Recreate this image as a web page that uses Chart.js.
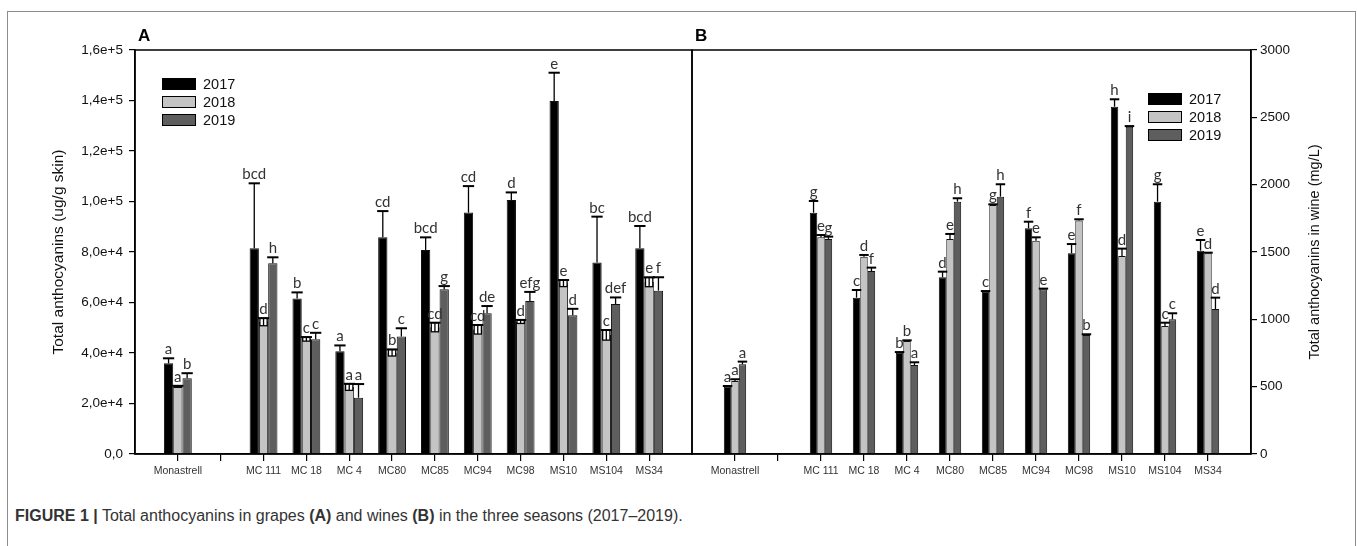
<!DOCTYPE html>
<html>
<head>
<meta charset="utf-8">
<script src="https://cdn.jsdelivr.net/npm/chart.js@4.4.1/dist/chart.umd.min.js"></script>
<style>
  body { margin: 0; background: #fff; }
  #page { position: relative; width: 1357px; height: 546px; overflow: hidden; background: #fff; }
  #frame { position: absolute; left: 7px; top: 11px; width: 1347px; height: 600px; border: 1px solid #8c8c8c; }
  canvas { position: absolute; top: 0; }
  #chartA { left: 0; }
  #chartB { left: 684px; }
  .tag { position: absolute; top: 26px; font: bold 17px "Liberation Sans", Arial, sans-serif; color: #000; }
  #caption { position: absolute; left: 15px; top: 507px; font: 16px "Liberation Sans Narrow", "Liberation Sans", Arial, sans-serif; color: #333; white-space: nowrap; }
</style>
</head>
<body>
<div id="page">
  <div id="frame"></div>
  <canvas id="chartA" width="700" height="480"></canvas>
  <canvas id="chartB" width="673" height="480"></canvas>
  <div class="tag" style="left:138px">A</div>
  <div class="tag" style="left:695px">B</div>
  <div id="caption"><b>FIGURE 1 |</b> Total anthocyanins in grapes <b>(A)</b> and wines <b>(B)</b> in the three seasons (2017–2019).</div>
</div>

<script>
// ---- data ----
const categories = ['', 'Monastrell', '', 'MC 111', 'MC 18', 'MC 4', 'MC80', 'MC85', 'MC94', 'MC98', 'MS10', 'MS104', 'MS34', ''];
const years = ['2017', '2018', '2019'];

// grapes (ug/g skin)
const grape2017 = [null, 35900, null, 81500, 61600, 40700, 85800, 80800, 95600, 100600, 139800, 75800, 81500, null];
const grape2018 = [null, 26700, null, 52300, 45500, 26500, 40100, 50200, 49300, 52400, 67600, 47100, 68100, null];
const grape2019 = [null, 30000, null, 75500, 45400, 22300, 46500, 65200, 55700, 60600, 55000, 59400, 64700, null];
const grapeErr2017 = [null, 2000, null, 25700, 2400, 2300, 10400, 5000, 10500, 3000, 11200, 18200, 8800, null];
const grapeErr2018 = [null, 300, null, 1500, 800, 1300, 1300, 1800, 1800, 700, 1300, 2000, 1850, null];
const grapeErr2019 = [null, 2000, null, 2400, 2600, 5400, 3300, 1300, 2900, 3600, 2500, 2600, 5300, null];
const grapeLet2017 = ['', 'a', '', 'bcd', 'b', 'a', 'cd', 'bcd', 'cd', 'd', 'e', 'bc', 'bcd', ''];
const grapeLet2018 = ['', 'a', '', 'd', 'c', 'a', 'b', 'cd', 'cd', 'd', 'e', 'c', 'e', ''];
const grapeLet2019 = ['', 'b', '', 'h', 'c', 'a', 'c', 'g', 'de', 'efg', 'd', 'def', 'f', ''];

// wines (mg/L)
const wine2017 = [null, 500, null, 1792, 1161, 752, 1312, 1205, 1676, 1490, 2579, 1874, 1510, null];
const wine2018 = [null, 542, null, 1609, 1465, 839, 1597, 1849, 1584, 1733, 1470, 950, 1490, null];
const wine2019 = [null, 666, null, 1597, 1359, 661, 1874, 1911, 1223, 884, 2430, 1000, 1077, null];
const wineErr2017 = [null, 5, null, 87, 57, 5, 42, 5, 49, 69, 55, 129, 79, null];
const wineErr2018 = [null, 13, null, 17, 13, 5, 37, 5, 25, 10, 55, 25, 5, null];
const wineErr2019 = [null, 20, null, 17, 25, 20, 25, 92, 5, 5, 5, 45, 84, null];
const wineLet2017 = ['', 'a', '', 'g', 'c', 'b', 'd', 'c', 'f', 'e', 'h', 'g', 'e', ''];
const wineLet2018 = ['', 'a', '', 'e', 'd', 'b', 'e', 'g', 'e', 'f', 'd', 'c', 'd', ''];
const wineLet2019 = ['', 'a', '', 'g', 'f', 'a', 'h', 'h', 'e', 'b', 'i', 'c', 'd', ''];

const grapeTicks = { min: 0, max: 160000, step: 20000 };
const wineTicks = { min: 0, max: 3000, step: 500 };

const fills = ['#000000', '#c4c4c4', '#5e5e5e'];
const FONT = '"Liberation Sans", Arial, sans-serif';

function sci(v) {
  if (v === 0) return '0,0';
  const exp = Math.floor(Math.log10(v) + 1e-9);
  const m = v / Math.pow(10, exp);
  return m.toFixed(1).replace('.', ',') + 'e+' + exp;
}

// error bars + significance letters
function errPlugin(errs, letters, boxIdx) {
  return {
    id: 'errbars',
    afterDatasetsDraw(chart) {
      const ctx = chart.ctx, ys = chart.scales.y;
      ctx.save();
      chart.data.datasets.forEach((ds, i) => {
        chart.getDatasetMeta(i).data.forEach((bar, j) => {
          const v = ds.data[j];
          if (v == null) return;
          const e = errs[i][j];
          const half = bar.width / 2;
          const yTop = ys.getPixelForValue(v + e);
          ctx.strokeStyle = '#000';
          ctx.lineWidth = 1.3;
          if (i === boxIdx) {
            const yBot = ys.getPixelForValue(v - e);
            ctx.fillStyle = '#fff';
            ctx.fillRect(bar.x - half + 1, yTop, bar.width - 2, yBot - yTop);
            ctx.strokeRect(bar.x - half + 1, yTop, bar.width - 2, yBot - yTop);
            ctx.beginPath(); ctx.moveTo(bar.x, yTop); ctx.lineTo(bar.x, yBot); ctx.stroke();
          } else {
            ctx.beginPath(); ctx.moveTo(bar.x, bar.y); ctx.lineTo(bar.x, yTop); ctx.stroke();
          }
          ctx.lineWidth = 2;
          ctx.beginPath(); ctx.moveTo(bar.x - half - 1, yTop); ctx.lineTo(bar.x + half + 1, yTop); ctx.stroke();
          ctx.fillStyle = '#333';
          ctx.font = '15px Lato, "Open Sans", sans-serif';
          ctx.textAlign = 'center';
          ctx.textBaseline = 'alphabetic';
          ctx.fillText(letters[i][j], bar.x, yTop - 4);
        });
      });
      ctx.restore();
    }
  };
}

// frame around plot area + legend + optional custom axis title
function decoPlugin(legendX, legendY, sideTitle) {
  return {
    id: 'deco',
    afterDraw(chart) {
      const ctx = chart.ctx, a = chart.chartArea;
      ctx.save();
      ctx.strokeStyle = '#000';
      ctx.lineWidth = 1.5;
      ctx.strokeRect(a.left, a.top, a.right - a.left, a.bottom - a.top);
      chart.data.datasets.forEach((ds, i) => {
        const y = legendY + i * 18;
        ctx.fillStyle = ds.backgroundColor;
        ctx.fillRect(legendX, y, 34, 12);
        ctx.lineWidth = 1;
        ctx.strokeRect(legendX + 0.5, y + 0.5, 33, 11);
        ctx.fillStyle = '#111';
        ctx.font = '14.5px ' + FONT;
        ctx.textBaseline = 'middle';
        ctx.textAlign = 'left';
        ctx.fillText(ds.label, legendX + 41, y + 6.5);
      });
      if (sideTitle) {
        ctx.translate(sideTitle.x, (a.top + a.bottom) / 2);
        ctx.rotate(-Math.PI / 2);
        ctx.textAlign = 'center';
        ctx.textBaseline = 'middle';
        ctx.font = '14.5px ' + FONT;
        ctx.fillStyle = '#111';
        ctx.fillText(sideTitle.text, 0, 0);
      }
      ctx.restore();
    }
  };
}

function makePanel(id, values, errs, letters, p) {
  const last = categories.length - 1;
  new Chart(document.getElementById(id), {
    type: 'bar',
    data: {
      labels: categories,
      datasets: values.map((d, i) => ({
        label: years[i], data: d, backgroundColor: fills[i],
        borderColor: '#111', borderWidth: 1,
        categoryPercentage: p.catPct, barPercentage: 1
      }))
    },
    options: {
      responsive: false,
      animation: false,
      layout: { padding: p.padding },
      plugins: { legend: { display: false }, tooltip: { enabled: false } },
      scales: {
        x: {
          type: 'category', offset: false,
          grid: {
            offset: false, drawOnChartArea: false, tickLength: 7, lineWidth: 1.2,
            tickColor: ctx => (ctx.index === 0 || ctx.index === last) ? 'rgba(0,0,0,0)' : '#000'
          },
          border: { color: '#000', width: 1.5 },
          ticks: { autoSkip: false, maxRotation: 0, padding: 4, color: '#333', font: { family: FONT, size: 10.5 } },
          afterFit: s => { s.height = 26; }
        },
        y: {
          position: p.side, min: p.ticks.min, max: p.ticks.max,
          grid: { drawOnChartArea: false, tickLength: 6, tickColor: '#000', lineWidth: 1.2 },
          border: { color: '#000', width: 1.5 },
          ticks: { stepSize: p.ticks.step, callback: p.fmt, padding: p.tickPad, color: '#111', font: { family: FONT, size: 13.5 } },
          title: p.title ? { display: true, text: p.title, color: '#111', font: { family: FONT, size: 15.5 }, padding: { top: 4, bottom: 4 } } : { display: false },
          afterFit: s => { s.width = p.axisW; }
        }
      }
    },
    plugins: [errPlugin(errs, letters, p.boxIdx), decoPlugin(p.legendX, p.legendY, p.sideTitle)]
  });
}

makePanel('chartA',
  [grape2017, grape2018, grape2019],
  [grapeErr2017, grapeErr2018, grapeErr2019],
  [grapeLet2017, grapeLet2018, grapeLet2019],
  {
    catPct: 0.65, side: 'left', ticks: grapeTicks, fmt: v => sci(v), tickPad: 6,
    title: 'Total anthocyanins (ug/g skin)', axisW: 90,
    padding: { left: 45, right: 8, top: 50, bottom: 0 },
    boxIdx: 1, legendX: 162, legendY: 78
  });

makePanel('chartB',
  [wine2017, wine2018, wine2019],
  [wineErr2017, wineErr2018, wineErr2019],
  [wineLet2017, wineLet2018, wineLet2019],
  {
    catPct: 0.52, side: 'right', ticks: wineTicks, fmt: v => String(v), tickPad: 3,
    title: null, axisW: 75,
    padding: { left: 8, right: 31, top: 50, bottom: 0 },
    boxIdx: -1, legendX: 464, legendY: 93,
    sideTitle: { x: 631, text: 'Total anthocyanins in wine (mg/L)' }
  });
</script>
</body>
</html>
